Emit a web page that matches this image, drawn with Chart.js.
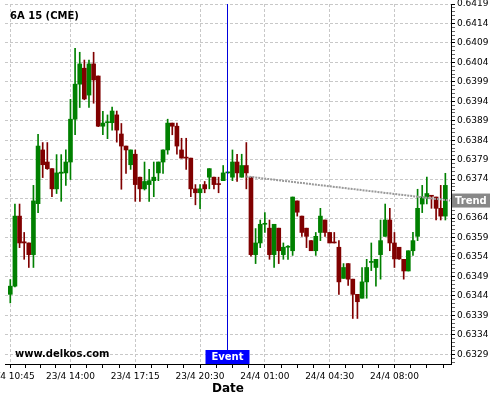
<!DOCTYPE html>
<html>
<head>
<meta charset="utf-8">
<script src="https://cdn.jsdelivr.net/npm/chart.js@4"></script>
<style>
  body { margin: 0; background: #fff; }
  canvas { display: block; }
</style>
</head>
<body>
<canvas id="grafico" width="500" height="400"></canvas>
<script>
// 15 min bars, 6A (CME)
let opens = [0.63444,0.63465,0.63645,0.63579,0.63576,0.63546,0.63677,0.63815,0.63784,0.63767,
    0.63715,0.63755,0.63756,0.63784,0.63894,0.63984,0.64025,0.63956,0.64036,0.64005,
    0.63876,0.63885,0.63885,0.63905,0.63856,0.63825,0.63777,0.63804,0.63745,0.63715,
    0.63726,0.63736,0.63756,0.63784,0.63815,0.63884,0.63876,0.63815,0.63796,0.63794,
    0.63715,0.63705,0.63726,0.63745,0.63745,0.63727,0.63736,0.63756,0.63745,0.63784,
    0.63745,0.63775,0.63745,0.63546,0.63576,0.63624,0.63614,0.63546,0.63614,0.63546,
    0.63565,0.63556,0.63684,0.63645,0.63614,0.63582,0.63556,0.63603,0.63635,0.63603,
    0.63578,0.63565,0.63485,0.63523,0.63483,0.63444,0.63434,0.63476,0.63526,0.63513,
    0.63546,0.63593,0.63635,0.63576,0.63565,0.63534,0.63504,0.63556,0.63593,0.63676,
    0.63694,0.63697,0.63694,0.63665,0.63645]
let highs = [0.63482,0.63676,0.63676,0.63603,0.63576,0.63724,0.63855,0.63834,0.63834,0.63767,
    0.63803,0.63803,0.63815,0.63945,0.64076,0.64066,0.64046,0.64046,0.64066,0.64005,
    0.63914,0.63905,0.63925,0.63915,0.63883,0.63825,0.63815,0.63815,0.63745,0.63784,
    0.63765,0.63784,0.63784,0.63815,0.63894,0.63884,0.63884,0.63845,0.63845,0.63794,
    0.63726,0.63726,0.63734,0.63767,0.63745,0.63745,0.63775,0.63758,0.63815,0.63804,
    0.63804,0.63834,0.63745,0.63613,0.63635,0.63654,0.63635,0.63624,0.63614,0.63576,
    0.63569,0.63694,0.63684,0.63645,0.63614,0.63582,0.63603,0.63665,0.63635,0.63603,
    0.63603,0.63582,0.63523,0.63523,0.63483,0.63444,0.63513,0.63534,0.63576,0.63534,
    0.63635,0.63676,0.63665,0.63603,0.63565,0.63534,0.63556,0.63603,0.63714,0.63724,
    0.63745,0.63697,0.63694,0.63724,0.63755]
let lows = [0.63422,0.63463,0.63564,0.63534,0.63513,0.63513,0.63654,0.63744,0.63765,0.63695,
    0.63703,0.63683,0.63724,0.63739,0.63854,0.63924,0.63944,0.63924,0.63935,0.63875,
    0.63854,0.63844,0.63866,0.63835,0.63714,0.63755,0.63765,0.63683,0.63683,0.63712,
    0.63683,0.63695,0.63736,0.63755,0.63804,0.63854,0.63804,0.63794,0.63765,0.63695,
    0.63674,0.63664,0.63705,0.63715,0.63715,0.63705,0.63736,0.63755,0.63736,0.63734,
    0.63745,0.63715,0.63542,0.63523,0.63564,0.63603,0.63534,0.63513,0.63523,0.63534,
    0.63534,0.63544,0.63645,0.63593,0.63564,0.63556,0.63544,0.63582,0.63593,0.63576,
    0.63576,0.63444,0.63485,0.63467,0.63382,0.63382,0.63434,0.63434,0.63505,0.63465,
    0.63483,0.63593,0.63556,0.63513,0.63534,0.63483,0.63504,0.63544,0.63582,0.63654,
    0.63676,0.63665,0.63635,0.63635,0.63635]
let closes = [0.63465,0.63645,0.63576,0.63576,0.63546,0.63684,0.63825,0.63777,0.63767,0.63715,
    0.63756,0.63758,0.63784,0.63894,0.63984,0.64036,0.63946,0.64036,0.63995,0.63876,
    0.63884,0.63887,0.63915,0.63866,0.63825,0.63815,0.63815,0.63726,0.63715,0.63734,
    0.63736,0.63745,0.63784,0.63815,0.63884,0.63876,0.63825,0.63794,0.63794,0.63715,
    0.63705,0.63715,0.63715,0.63767,0.63726,0.63726,0.63756,0.63757,0.63784,0.63756,
    0.63775,0.63756,0.63546,0.63576,0.63624,0.63626,0.63546,0.63624,0.63556,0.63565,
    0.63567,0.63694,0.63655,0.63603,0.63593,0.63556,0.63593,0.63645,0.63603,0.63576,
    0.63576,0.63476,0.63513,0.63483,0.63444,0.63425,0.63476,0.63513,0.63528,0.63534,
    0.63582,0.63635,0.63576,0.63535,0.63535,0.63504,0.63556,0.63582,0.63665,0.63694,
    0.63703,0.63696,0.63665,0.63645,0.63724]

// x axis labels (bar index -> time)
let xTickIdx = [0, 13, 27, 41, 55, 69, 83]
let xTickLabels = ['23/4 10:45', '23/4 14:00', '23/4 17:15', '23/4 20:30', '24/4 01:00', '24/4 04:30', '24/4 08:00']
let yTickLabels = ['0.6419', '0.6414', '0.6409', '0.6404', '0.6399', '0.6394', '0.6389', '0.6384', '0.6379', '0.6374',
    '0.6369', '0.6364', '0.6359', '0.6354', '0.6349', '0.6344', '0.6339', '0.6334', '0.6329']

let eventIdx = 47
let trendX = [51, 95]
let trendY = [0.63747, 0.63685]

const verde = '#008000'
const rojo = '#800000'
const fuente = '"DejaVu Sans", sans-serif'

let colores = opens.map((o, i) => closes[i] >= o ? verde : rojo)
let cuerpos = opens.map((o, i) => ({ x: i, y: [o, closes[i]] }))
let mechas = opens.map((o, i) => ({ x: i, y: [lows[i], highs[i]] }))

Chart.defaults.font.family = fuente

const extras = {
    id: 'extras',
    afterDraw(chart) {
        const ctx = chart.ctx
        const area = chart.chartArea
        const xs = chart.scales.x
        const ys = chart.scales.y
        ctx.save()
        ctx.font = 'bold 10px ' + fuente
        ctx.textBaseline = 'middle'
        ctx.fillStyle = '#000'
        ctx.textAlign = 'left'
        ctx.fillText('6A 15 (CME)', 10, 16)
        ctx.fillText('www.delkos.com', 15, 354)

        // linea del evento
        let ex = Math.round(xs.getPixelForValue(eventIdx)) - 0.5
        ctx.strokeStyle = '#0000dd'
        ctx.lineWidth = 1
        ctx.beginPath()
        ctx.moveTo(ex, area.top)
        ctx.lineTo(ex, area.bottom - 14)
        ctx.stroke()
        ctx.fillStyle = '#0000ff'
        ctx.fillRect(ex - 22, area.bottom - 14, 44, 14)
        ctx.fillStyle = '#fff'
        ctx.textAlign = 'center'
        ctx.fillText('Event', ex, area.bottom - 6.5)

        // etiqueta de tendencia
        let ty = ys.getPixelForValue(trendY[1])
        ctx.fillStyle = '#888888'
        ctx.fillRect(area.right + 1, ty - 7, 38, 14)
        ctx.fillStyle = '#fff'
        ctx.textAlign = 'left'
        ctx.fillText('Trend', area.right + 4, ty + 0.5)
        ctx.restore()
    }
}

const canvas = document.getElementById('grafico')

let grafico = new Chart(canvas, {
    type: 'bar',
    data: {
        datasets: [
            {
                type: 'line',
                data: trendX.map((x, i) => ({ x: x, y: trendY[i] })),
                borderColor: '#999999',
                borderWidth: 2,
                borderDash: [2, 1],
                pointRadius: 0,
                order: 0
            },
            {
                data: cuerpos,
                backgroundColor: colores,
                barThickness: 4,
                minBarLength: 1,
                grouped: false,
                borderWidth: 0,
                order: 1
            },
            {
                data: mechas,
                backgroundColor: colores,
                barThickness: 1,
                grouped: false,
                borderWidth: 0,
                order: 2
            }
        ]
    },
    options: {
        responsive: false,
        animation: false,
        devicePixelRatio: 1,
        layout: { padding: { left: 5, top: 4, right: 0, bottom: 0 } },
        plugins: {
            legend: { display: false },
            tooltip: { enabled: false }
        },
        scales: {
            x: {
                type: 'linear',
                min: -1.145,
                max: 95.22,
                offset: false,
                grid: {
                    offset: false,
                    color: c => xTickIdx.includes(c.tick && c.tick.value) ? '#c8c8c8' : 'transparent',
                    tickColor: '#000',
                    tickLength: 4
                },
                border: { color: '#000', width: 1, dash: [3, 2] },
                ticks: {
                    autoSkip: false,
                    maxRotation: 0,
                    padding: 3,
                    color: '#000',
                    font: { size: 9 },
                    callback: v => {
                        let k = xTickIdx.indexOf(v)
                        return k >= 0 ? xTickLabels[k] : ''
                    }
                },
                title: {
                    display: true,
                    text: 'Date',
                    color: '#000',
                    font: { size: 12, weight: 'bold' },
                    padding: { top: 0, bottom: 4 }
                },
                afterBuildTicks: scale => {
                    let t = []
                    for (let k = 0; k < xTickIdx.length; k++) {
                        let a = xTickIdx[k]
                        let paso = k < xTickIdx.length - 1 ? (xTickIdx[k + 1] - a) / 4 : 3.5
                        t.push({ value: a })
                        for (let j = 1; j < 4; j++) {
                            if (a + j * paso < scale.max) t.push({ value: a + j * paso })
                        }
                    }
                    scale.ticks = t
                },
                afterFit: scale => {
                    scale.height = 36
                    scale.paddingLeft = 0
                    scale.paddingRight = 0
                }
            },
            y: {
                position: 'right',
                min: 0.63265,
                max: 0.6419,
                grid: {
                    color: c => (c.tick && c.tick.major) ? '#c8c8c8' : 'transparent',
                    tickColor: c => (c.tick && c.tick.major) ? '#000' : '#666',
                    tickLength: 4
                },
                border: { color: '#000', width: 1, dash: [3, 2] },
                ticks: {
                    autoSkip: false,
                    padding: 2,
                    color: '#000',
                    font: { size: 9 },
                    callback: (v, i, ticks) => ticks[i].major ? ticks[i].texto : ''
                },
                afterBuildTicks: scale => {
                    let t = []
                    let mayores = yTickLabels.map(s => parseFloat(s))
                    for (let k = 0; k < mayores.length; k++) {
                        t.push({ value: mayores[k], major: true, texto: yTickLabels[k] })
                        for (let j = 1; j < 5; j++) {
                            let v = mayores[k] - j * 0.0001
                            if (v >= scale.min) t.push({ value: v, major: false })
                        }
                    }
                    scale.ticks = t
                },
                afterFit: scale => {
                    scale.width = 49
                    scale.paddingTop = 0
                    scale.paddingBottom = 0
                }
            }
        }
    },
    plugins: [extras]
})
</script>
</body>
</html>
